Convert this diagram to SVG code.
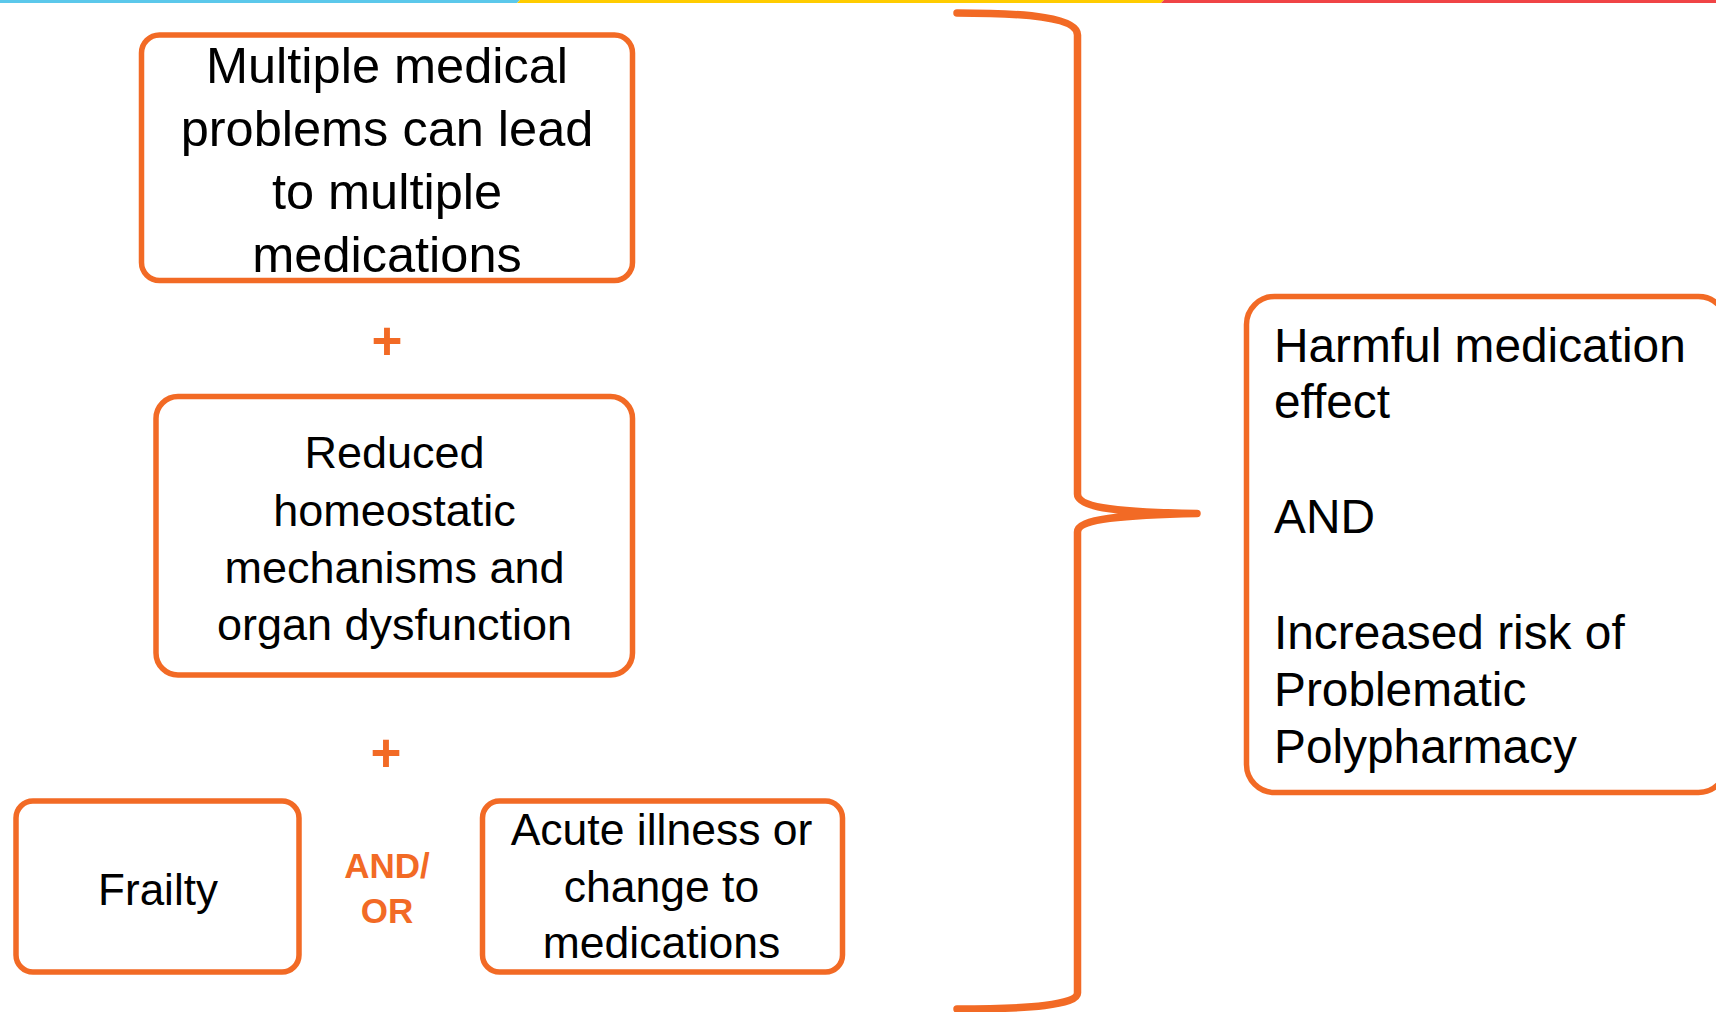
<svg xmlns="http://www.w3.org/2000/svg" width="1716" height="1012" viewBox="0 0 1716 1012">
<style>
.box{fill:#FFFFFF;stroke:#F26A25;stroke-width:5.5}
.t{font-family:"Liberation Sans",Arial,sans-serif;fill:#000000}
.c{text-anchor:middle}
.o{font-family:"Liberation Sans",Arial,sans-serif;font-weight:bold;fill:#F26A25;text-anchor:middle}
.brace{fill:none;stroke:#F26A25;stroke-width:7.5;stroke-linecap:round;stroke-linejoin:round}
</style>
<rect x="0" y="0" width="1716" height="1012" fill="#FFFFFF"/>
<g id="topbar">
<polygon points="0,0 520,0 517,3 0,3" fill="#5BC8EB"/>
<polygon points="520,0 1164,0 1161,3 517,3" fill="#FFCC00"/>
<polygon points="1164,0 1716,0 1716,3 1161,3" fill="#F04446"/>
</g>
<g id="connectors">
<path class="brace" d="M957,13 C1030,13 1077.5,18 1077.5,35 L1077.5,494 C1077.5,508 1120,512.5 1197,513.5 M1197,513.5 C1120,515 1077.5,519 1077.5,532 L1077.5,993 C1077.5,1005 1030,1009 957,1009"/>
</g>
<g id="node-multiple">
<rect class="box" x="141.5" y="35" width="491" height="245.5" rx="18"/>
<text class="t c" font-size="50.5"><tspan x="387" y="82.7">Multiple medical</tspan><tspan x="387" y="146">problems can lead</tspan><tspan x="387" y="209.3">to multiple</tspan><tspan x="387" y="272.3">medications</tspan></text>
</g>
<g id="plus1"><text class="o" x="387" y="358.5" font-size="53">+</text></g>
<g id="node-reduced">
<rect class="box" x="156" y="396.5" width="476.5" height="278.5" rx="22"/>
<text class="t c" font-size="45"><tspan x="394.5" y="468.3">Reduced</tspan><tspan x="394.5" y="525.7">homeostatic</tspan><tspan x="394.5" y="582.7">mechanisms and</tspan><tspan x="394.5" y="640">organ dysfunction</tspan></text>
</g>
<g id="plus2"><text class="o" x="386" y="771.2" font-size="53">+</text></g>
<g id="node-frailty">
<rect class="box" x="16" y="801" width="283" height="171" rx="17"/>
<text class="t c" x="158" y="905" font-size="44">Frailty</text>
</g>
<g id="andor">
<text class="o" font-size="35"><tspan x="387" y="878.3">AND/</tspan><tspan x="387" y="923.3">OR</tspan></text>
</g>
<g id="node-acute">
<rect class="box" x="482.5" y="801" width="360" height="171" rx="17"/>
<text class="t c" font-size="44.5"><tspan x="661.5" y="845">Acute illness or</tspan><tspan x="661.5" y="901.7">change to</tspan><tspan x="661.5" y="958.3">medications</tspan></text>
</g>
<g id="node-harmful">
<rect class="box" x="1246.5" y="296.5" width="480" height="496" rx="28"/>
<text class="t" font-size="47.8"><tspan x="1274" y="361.7">Harmful medication</tspan><tspan x="1274" y="418.3">effect</tspan><tspan x="1274" y="533.3">AND</tspan><tspan x="1274" y="649.3">Increased risk of</tspan><tspan x="1274" y="706">Problematic</tspan><tspan x="1274" y="763.3">Polypharmacy</tspan></text>
</g>
</svg>
